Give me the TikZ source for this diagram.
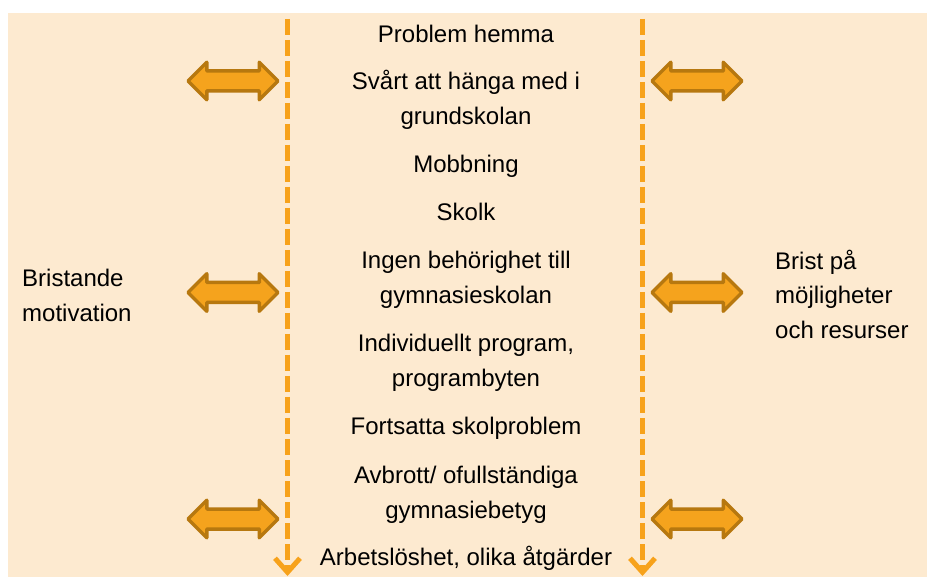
\documentclass[tikz,border=0pt]{standalone}
\usepackage{fontspec}
\setmainfont{Liberation Sans}
\usetikzlibrary{arrows.meta,shapes.arrows}
\definecolor{bgcream}{HTML}{FDEAD0}
\definecolor{lineorange}{HTML}{F7A21B}
\definecolor{arrowfill}{HTML}{F5A31D}
\definecolor{arrowedge}{HTML}{B7780F}
\tikzset{
  stage/.style={anchor=base, align=center, font=\fontsize{24}{35}\selectfont},
  side/.style={align=left, inner xsep=0pt, font=\fontsize{24}{35}\selectfont},
  border/.style={draw=lineorange, line width=5pt, dash pattern=on 16pt off 5pt,
    -{Straight Barb[length=14pt,width=25pt,line width=5pt]}},
  link/.style={double arrow, double arrow tip angle=90, double arrow head extend=8.75pt,
    minimum height=90pt, minimum width=34pt, inner xsep=0pt, inner ysep=8.25pt,
    fill=arrowfill, draw=arrowedge, line width=3.5pt, line join=round}
}
\begin{document}
\begin{tikzpicture}[x=1pt,y=-1pt]
	\useasboundingbox (0,0) rectangle (927,577);
	\fill [bgcream] (8,13) rectangle (927,577);
%	dashed borders of the pathway
	\coordinate (ltop) at (287.5,19);
	\coordinate (lbot) at (287.5,576);
	\coordinate (rtop) at (642.5,19);
	\coordinate (rbot) at (642.5,576);
	\draw [border] (ltop) -- (lbot);
	\draw [border] (rtop) -- (rbot);
%	the pathway (base = last line)
	\node [stage] (hemma) at (466,43) {Problem hemma};
	\node [stage] (grund) at (466,125) {Svårt att hänga med i\\grundskolan};
	\node [stage] (mobb) at (466,173) {Mobbning};
	\node [stage] (skolk) at (466,221) {Skolk};
	\node [stage] (behor) at (466,304) {Ingen behörighet till\\gymnasieskolan};
	\node [stage] (indiv) at (466,387) {Individuellt program,\\programbyten};
	\node [stage] (forts) at (466,435) {Fortsatta skolproblem};
	\node [stage] (avbr) at (466,518) {Avbrott/ ofullständiga\\gymnasiebetyg};
	\node [stage] (arbl) at (466,565) {Arbetslöshet, olika åtgärder};
%	factors on both sides
	\node [side, anchor=base west] (motiv) at (22,322) {Bristande\\motivation};
	\node [side, anchor=base west] (resurs) at (775,339) {Brist på\\möjligheter\\och resurser};
	\node [link] (l1) at (233,81) {};
	\node [link] (l2) at (233,292.5) {};
	\node [link] (l3) at (233,519) {};
	\node [link] (r1) at (697,81) {};
	\node [link] (r2) at (697,292.5) {};
	\node [link] (r3) at (697,519) {};
\end{tikzpicture}
\end{document}
